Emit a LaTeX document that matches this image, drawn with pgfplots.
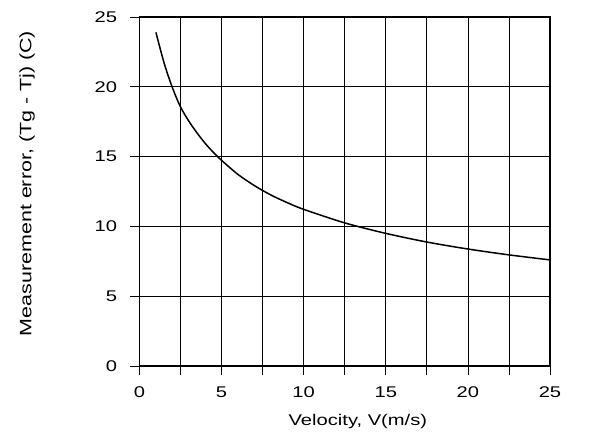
\documentclass[border=0pt]{standalone}
\usepackage{fontspec}
\setmainfont{Liberation Sans}[FakeStretch=1.3]
\usepackage{pgfplots}
\pgfplotsset{compat=1.18}
\begin{document}
\fontsize{15.5pt}{18pt}\selectfont
\begin{tikzpicture}
\begin{axis}[
 scale only axis, width=410.5pt, height=349pt,
 xmin=0,xmax=25,ymin=0,ymax=25,
 xtick={0,5,...,25}, minor xtick={2.5,7.5,...,22.5},
 ytick={0,5,...,25},
 grid=both,
 major grid style={black, line width=0.8pt},
 minor grid style={black, line width=0.8pt},
 tick align=outside, major tick length=9pt, minor tick length=9pt,
 tick pos=left,
 tick style={black, line width=0.8pt},
 axis line style={line width=1.2pt},
 ticklabel style={font=\fontsize{15.5pt}{18pt}\selectfont},
 xticklabel style={yshift=-6pt},
 yticklabel style={xshift=-8pt},
 /pgf/number format/assume math mode=true,
 xlabel={Velocity, V(m/s)}, ylabel={Measurement error, (Tg - Tj) (C)},
 xlabel style={font=\fontsize{15.5pt}{18pt}\selectfont, at={(axis description cs:0.532,0)}, anchor=north, yshift=-43pt},
 ylabel style={font=\fontsize{16.5pt}{19pt}\selectfont, at={(axis description cs:-0.242,0.523)}, anchor=south},
]
\addplot[black, line width=1.5pt, smooth, no marks] coordinates {
(1,23.9) (1.5,21.7) (2,19.95) (2.5,18.55) (3,17.55) (3.5,16.7) (4,15.95) (4.5,15.3) (5,14.73) (6,13.72) (7,12.92) (8,12.25) (9,11.7) (10,11.22) (12.5,10.25) (15,9.5) (17.5,8.88) (20,8.38) (22.5,7.96) (25,7.6)
};
\end{axis}
\pgfresetboundingbox
\path (current axis.south west) ++(-139.5pt,-75pt) rectangle ++(589pt,441pt);
\end{tikzpicture}
\end{document}
